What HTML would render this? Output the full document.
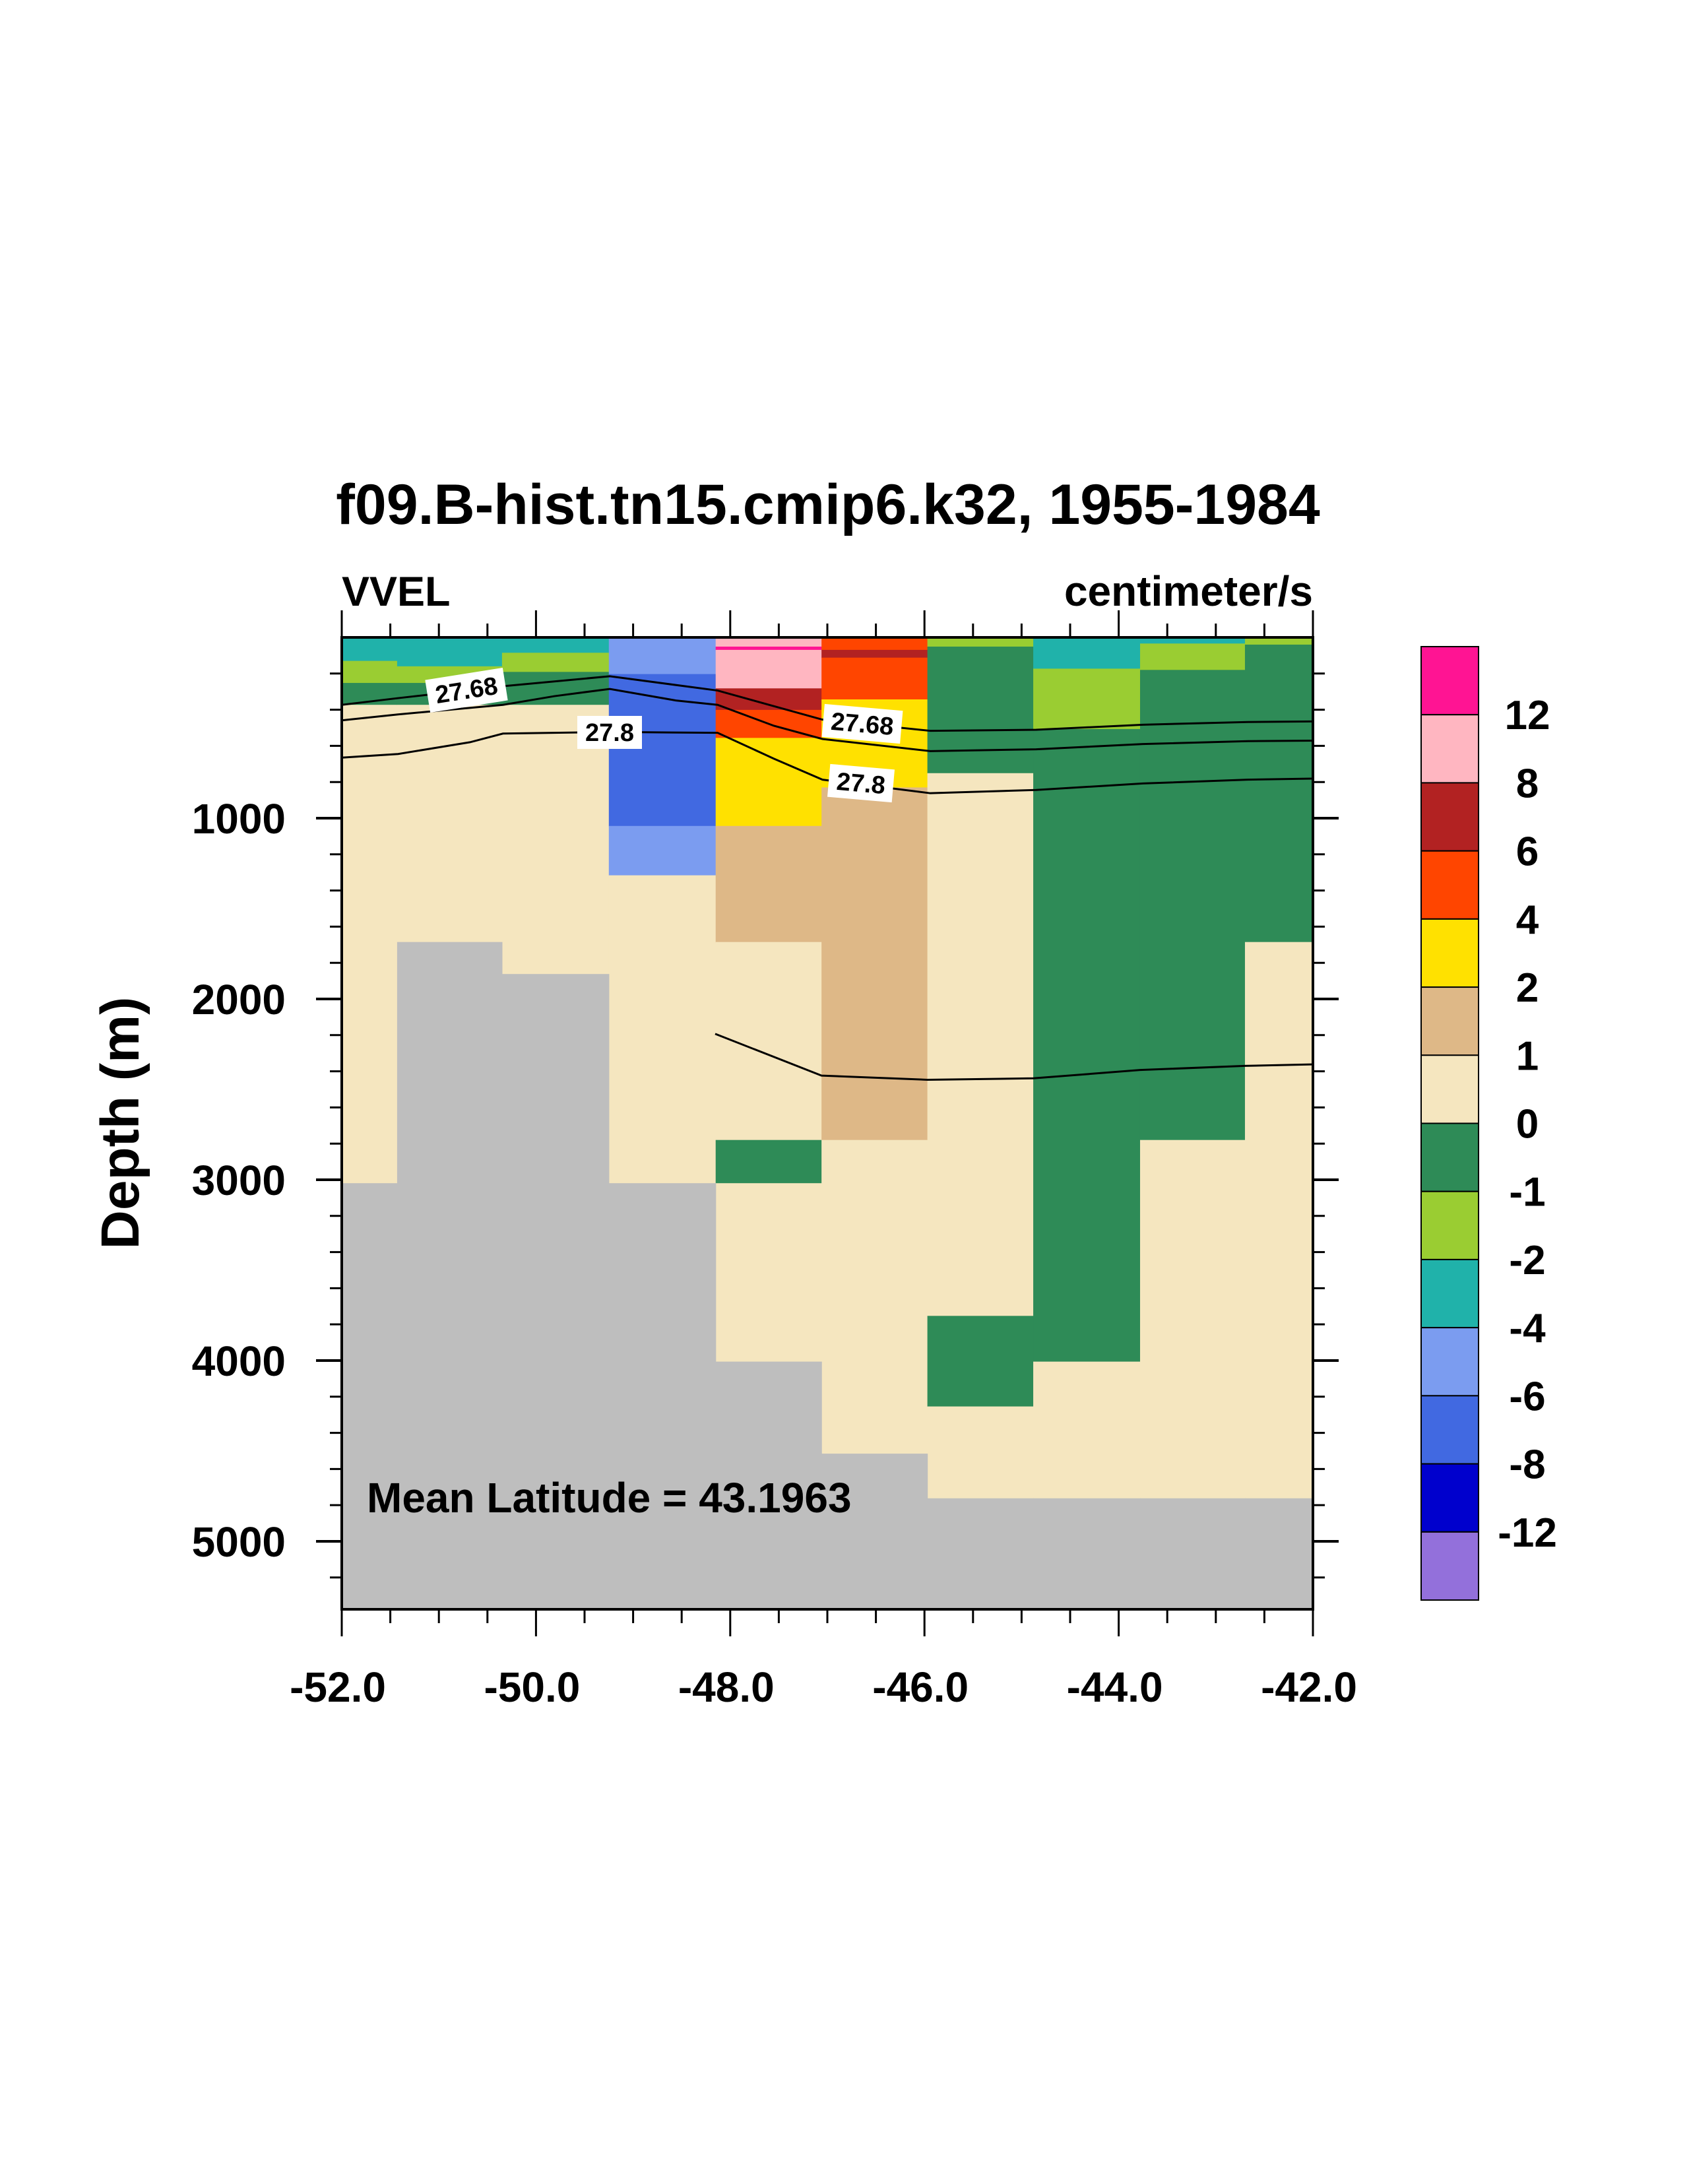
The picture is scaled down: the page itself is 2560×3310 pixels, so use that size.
<!DOCTYPE html>
<html><head><meta charset="utf-8"><style>
html,body{margin:0;padding:0;background:#fff;}
svg{display:block;font-family:"Liberation Sans",Arial,sans-serif;font-weight:bold;}
</style></head><body>
<svg id="chart" width="2560" height="3310" viewBox="0 0 2560 3310" xmlns="http://www.w3.org/2000/svg">
<text x="1255" y="794" font-size="86" text-anchor="middle">f09.B-hist.tn15.cmip6.k32, 1955-1984</text>
<text x="518" y="918" font-size="63">VVEL</text>
<text x="1990" y="918" font-size="64" text-anchor="end">centimeter/s</text>
<text transform="translate(210,1702) rotate(-90)" font-size="82" text-anchor="middle">Depth (m)</text>
<g id="cells"></g>
<g id="land"></g>
<g id="contours"></g>
<g id="axes"></g>
<text x="556" y="2292" font-size="64">Mean Latitude = 43.1963</text>
<g id="cbar"></g>
</svg>
<script>
const colLeft = [-52, -51.43, -50.35, -49.25, -48.15, -47.06, -45.97, -44.88, -43.78, -42.7];
const colRight = [-51.43, -50.35, -49.25, -48.15, -47.06, -45.97, -44.88, -43.78, -42.7, -42];
const floorDepth = [3019, 1685, 1862, 3019, 4006, 4515, 4762, 4762, 4762, 4762];
const cellCol = [0,0,0,0, 1,1,1,1,1, 2,2,2,2, 3,3,3,3, 4,4,4,4,4,4,4,4,4,4, 5,5,5,5,5,5, 6,6,6,6,6, 7,7,7,7, 8,8,8,8, 9,9,9];
const cellTop = [0,130,252,373, 0,8,160,252,373, 0,85,191,373, 0,203,1043,1316, 0,51,69,282,401,556,1043,1685,2780,3019, 0,69,112,343,830,2780, 0,51,751,3753,4254, 0,173,507,4006, 0,34,180,2780, 0,40,1685];
const cellBottom = [130,252,373,3019, 8,160,252,373,1685, 85,191,373,1862, 203,1043,1316,3019, 51,69,282,401,556,1043,1685,2780,3019,4006, 69,112,343,830,2780,4515, 51,751,3753,4254,4762, 173,507,4006,4762, 34,180,2780,4762, 40,1685,4762];
const cellValue = [-3,-1.5,-0.5,0.5, -5,-3,-1.5,-0.5,0.5, -3,-1.5,-0.5,0.5, -5,-7,-5,0.5, 10,14,10,7,5,3,1.5,0.5,-0.5,0.5, 5,7,5,3,1.5,0.5, -1.5,-0.5,0.5,-0.5,0.5, -3,-1.5,-0.5,0.5, -3,-1.5,-0.5,0.5, -1.5,-0.5,0.5];
const levels = [-12,-8,-6,-4,-2,-1,0,1,2,4,6,8,12];
const levelColors = ["#9370DB","#0000CD","#4169E1","#7B9CF0","#20B2AA","#9ACD32","#2E8B57","#F5E6BF","#DEB887","#FFE100","#FF4500","#B22222","#FFB6C1","#FF1493"];
const xTicks = [-52,-50,-48,-46,-44,-42];
const xTickLabels = ["-52.0","-50.0","-48.0","-46.0","-44.0","-42.0"];
const yTicks = [1000,2000,3000,4000,5000];
const yTickLabels = ["1000","2000","3000","4000","5000"];
const c1Lon = [-52,-51.42,-50.34,-49.24,-48.13,-47.05,-45.94,-44.85,-43.75,-42.67,-42];
const c1Depth = [373,336,270,215,294,455,517,511,483,468,465];
const c2Lon = [-52,-51.42,-50.34,-49.81,-49.24,-48.56,-48.13,-47.55,-47.05,-45.94,-44.85,-43.75,-42.67,-42];
const c2Depth = [459,426,373,325,285,349,373,489,562,629,619,590,574,571];
const c3Lon = [-52,-51.42,-50.68,-50.34,-49.24,-48.13,-47.55,-47.05,-45.94,-44.85,-43.75,-42.67,-42];
const c3Depth = [665,645,580,532,523,528,671,787,862,844,808,787,781];
const c4Lon = [-48.155,-47.06,-45.97,-44.88,-43.78,-42.7,-42];
const c4Depth = [2193,2424,2447,2439,2393,2370,2362];

const X0=518, X1=1990, Y0=966, Y1=2439, DMAX=5376;
const NS="http://www.w3.org/2000/svg";
function sx(lon){return X0+(lon+52)/10*(X1-X0);}
function sy(d){return Y0+d/DMAX*(Y1-Y0);}
function colorFor(v){let i=0;while(i<levels.length&&v>=levels[i])i++;return levelColors[i];}
function mk(tag,attrs,parent){const e=document.createElementNS(NS,tag);for(const k in attrs)e.setAttribute(k,attrs[k]);parent.appendChild(e);return e;}

const gCells=document.getElementById('cells');
for(let i=0;i<cellCol.length;i++){
  const c=cellCol[i];
  const r=mk('rect',{x:sx(colLeft[c]),y:sy(cellTop[i]),width:sx(colRight[c])-sx(colLeft[c])+0.6,height:sy(cellBottom[i])-sy(cellTop[i])+0.6,fill:colorFor(cellValue[i])},gCells);
  
  
}
const gLand=document.getElementById('land');
for(let c=0;c<colLeft.length;c++){
  const r=mk('rect',{x:sx(colLeft[c]),y:sy(floorDepth[c]),width:sx(colRight[c])-sx(colLeft[c])+0.6,height:Y1-sy(floorDepth[c]),fill:"#BEBEBE"},gLand);
  
  
}
const gC=document.getElementById('contours');
[[c1Lon,c1Depth],[c2Lon,c2Depth],[c3Lon,c3Depth],[c4Lon,c4Depth]].forEach(([lo,de])=>{
  const pts=lo.map((l,i)=>sx(l)+','+sy(de[i])).join(' ');
  const p=mk('polyline',{points:pts,fill:'none',stroke:'#000','stroke-width':3},gC);
  
  
});
function label(txt,x,y,rot){
  const g=mk('g',{transform:`translate(${x},${y}) rotate(${rot})`},gC);
  
  
  const w=txt.length*21+14;
  mk('rect',{x:-w/2,y:-25,width:w,height:50,fill:'#fff'},g);
  mk('text',{x:0,y:13,'font-size':38,'text-anchor':'middle'},g).textContent=txt;
}
label('27.68',707,1046,-9);
label('27.8',924,1110,0);
label('27.68',1307,1097,5);
label('27.8',1305,1187,5);

const gA=document.getElementById('axes');
mk('rect',{x:X0,y:Y0,width:X1-X0,height:Y1-Y0,fill:'none',stroke:'#000','stroke-width':4},gA);
for(let v=-52;v<=-42.001;v+=0.5){
  const x=sx(v), major=Math.abs(v-Math.round(v/2)*2)<1e-6;
  const L=major?41:21;
  mk('line',{x1:x,y1:Y1,x2:x,y2:Y1+L,stroke:'#000','stroke-width':3},gA);
  mk('line',{x1:x,y1:Y0,x2:x,y2:Y0-L,stroke:'#000','stroke-width':3},gA);
}
mk('line',{x1:X1,y1:Y1,x2:X1,y2:Y1+41,stroke:'#000','stroke-width':3},gA);
mk('line',{x1:X1,y1:Y0,x2:X1,y2:Y0-41,stroke:'#000','stroke-width':3},gA);
xTicks.forEach((v,i)=>{
  const t=mk('text',{x:sx(v)-6,y:2579,'font-size':64,'text-anchor':'middle'},gA);
  t.textContent=xTickLabels[i];
  
  
});
for(let d=200;d<DMAX;d+=200){
  const y=sy(d), major=d%1000===0;
  const L=major?39:18, w=major?4:3;
  mk('line',{x1:X0,y1:y,x2:X0-L,y2:y,stroke:'#000','stroke-width':w},gA);
  mk('line',{x1:X1,y1:y,x2:X1+L,y2:y,stroke:'#000','stroke-width':w},gA);
}
yTicks.forEach((d,i)=>{
  const t=mk('text',{x:433,y:sy(d)+23,'font-size':64,'text-anchor':'end'},gA);
  t.textContent=yTickLabels[i];
  
  
});

const gB=document.getElementById('cbar');
const CB_X=2154, CB_W=87, CB_Y=980, CB_H=1445, n=levelColors.length, bh=CB_H/n;
for(let i=0;i<n;i++){
  const r=mk('rect',{x:CB_X,y:CB_Y+i*bh,width:CB_W,height:bh,fill:levelColors[n-1-i],stroke:'#000','stroke-width':2},gB);
  
  
}
for(let j=0;j<levels.length;j++){
  const t=mk('text',{x:2315,y:CB_Y+(j+1)*bh+22,'font-size':62,'text-anchor':'middle'},gB);
  t.textContent=String(levels[levels.length-1-j]);
  
  
}
</script>
</body></html>
